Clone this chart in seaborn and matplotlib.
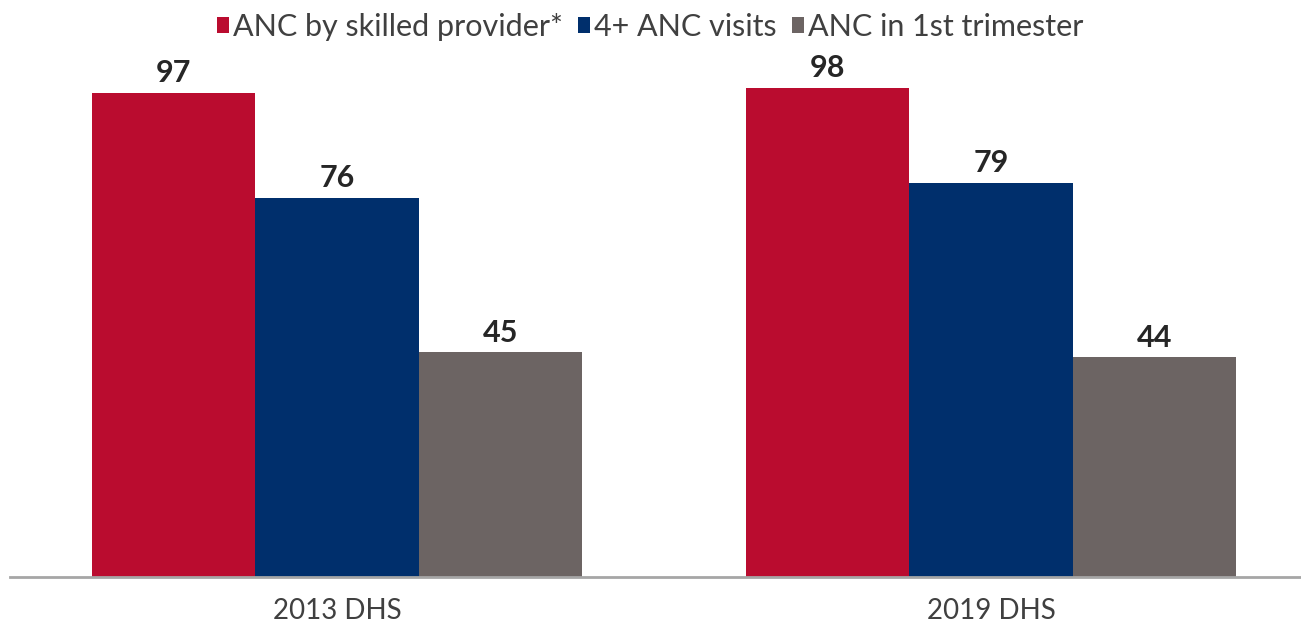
import matplotlib
matplotlib.use("Agg")
import matplotlib.pyplot as plt
import seaborn as sns
import pandas as pd
from matplotlib.patches import Patch

surveys = ["2013 DHS", "2019 DHS"]
indicators = ["ANC by skilled provider*", "4+ ANC visits", "ANC in 1st trimester"]
skilled_provider = [97, 98]
four_plus_visits = [76, 79]
first_trimester = [45, 44]
colors = ["#BA0C2F", "#002F6C", "#6C6463"]

df = pd.DataFrame({
    "survey": surveys * 3,
    "indicator": [indicators[0]] * 2 + [indicators[1]] * 2 + [indicators[2]] * 2,
    "value": skilled_provider + four_plus_visits + first_trimester,
})

sns.set_theme(style="white")
plt.rcParams["font.family"] = ["Lato", "DejaVu Sans"]

W, H = 1301, 626
fig = plt.figure(figsize=(W / 100, H / 100), dpi=100)
# axes spans from x=10 to past the right edge, baseline at y=577
ax_left, ax_right = 10, 1318
ax_bottom, ax_top = 577, 28
ax = fig.add_axes([ax_left / W, (H - ax_bottom) / H,
                   (ax_right - ax_left) / W, (ax_bottom - ax_top) / H])

sns.barplot(data=df, x="survey", y="value", hue="indicator",
            hue_order=indicators, palette=colors, width=0.75, gap=0,
            saturation=1, ax=ax, legend=False, linewidth=0)

ax.set_ylim(0, 110)
ax.set_xlim(-0.5, 1.5)
ax.set_xlabel("")
ax.set_ylabel("")
ax.set_yticks([])
for s in ["top", "right", "left"]:
    ax.spines[s].set_visible(False)
ax.spines["bottom"].set_color("#A6A6A6")
ax.spines["bottom"].set_linewidth(2)
ax.tick_params(axis="x", length=0, pad=15, labelsize=20, labelcolor="#404040")

for cont in ax.containers:
    ax.bar_label(cont, fmt="%d", padding=4, fontsize=22, fontweight="bold",
                 color="#262626")

handles = [Patch(facecolor=c, edgecolor="none") for c in colors]
fig.legend(handles, indicators, loc="center", bbox_to_anchor=(650 / W, 1 - 27 / H),
           ncol=3, frameon=False, fontsize=22, handlelength=0.4, handleheight=0.4,
           handletextpad=0.12, columnspacing=0.5, labelcolor="#404040")

fig.savefig("out.png", dpi=100)
